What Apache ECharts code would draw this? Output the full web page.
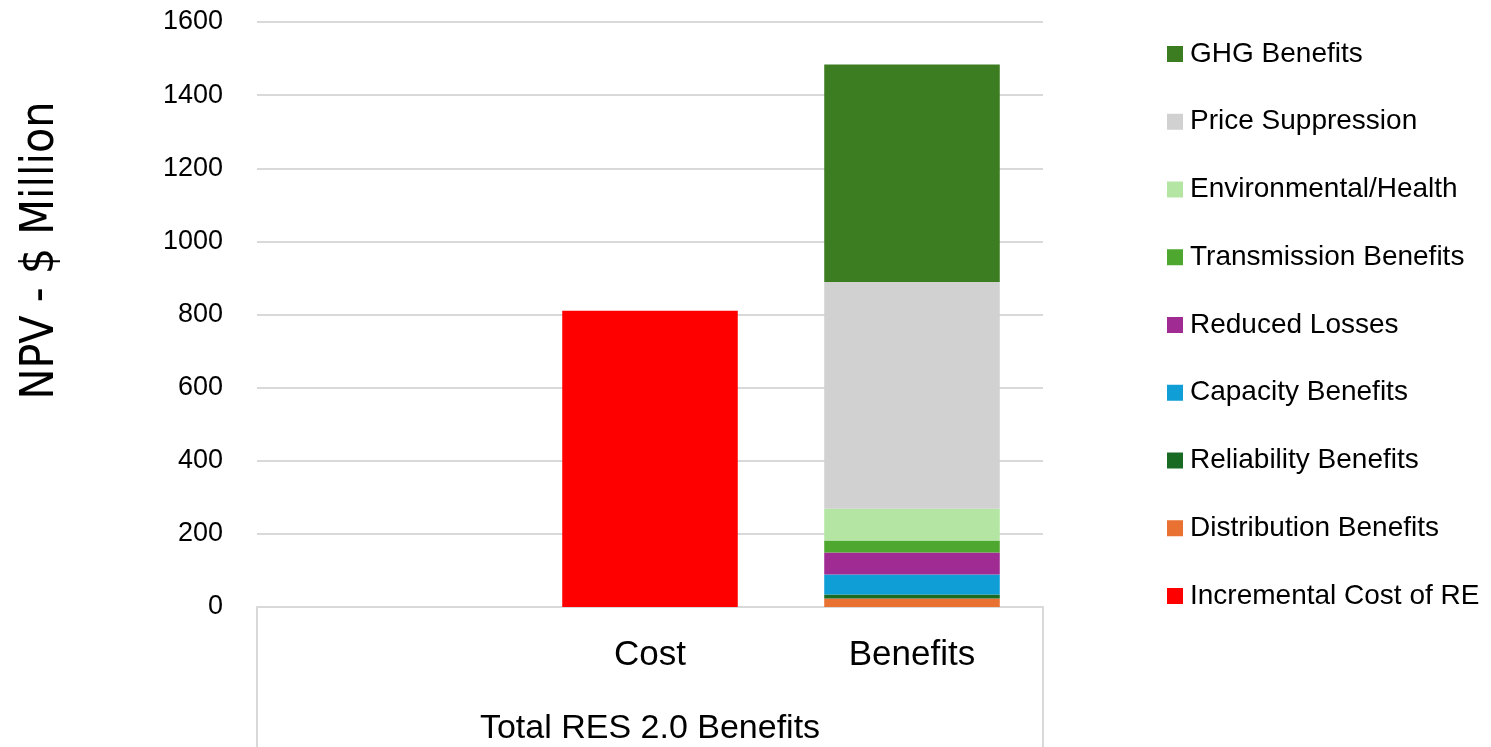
<!DOCTYPE html>
<html>
<head>
<meta charset="utf-8">
<script src="https://cdn.jsdelivr.net/npm/echarts@6/dist/echarts.min.js"></script>
<style>
  html, body { margin: 0; padding: 0; background: #fff; }
  #chart { width: 1491px; height: 747px; }
</style>
</head>
<body>
<div id="chart"></div>
<script>
// Categories of the inner axis and the outer group label
const categories = ['', 'Cost', 'Benefits'];
const groupLabel = ['Total RES 2.0 Benefits'];

// NPV, $ million, one value per category ('-' = no bar)
const incrementalCost = ['-', 810, '-'];
const distributionBenefits = ['-', '-', 23];
const reliabilityBenefits = ['-', '-', 11];
const capacityBenefits = ['-', '-', 55];
const reducedLosses = ['-', '-', 60];
const transmissionBenefits = ['-', '-', 33];
const environmentalHealth = ['-', '-', 87];
const priceSuppression = ['-', '-', 620];
const ghgBenefits = ['-', '-', 595];

const yTicks = { min: 0, max: 1600, interval: 200 };

const seriesDefs = [
  { name: 'Incremental Cost of RE', data: incrementalCost, color: '#ff0000' },
  { name: 'Distribution Benefits', data: distributionBenefits, color: '#e97132' },
  { name: 'Reliability Benefits', data: reliabilityBenefits, color: '#196b24' },
  { name: 'Capacity Benefits', data: capacityBenefits, color: '#0f9ed5' },
  { name: 'Reduced Losses', data: reducedLosses, color: '#a02b93' },
  { name: 'Transmission Benefits', data: transmissionBenefits, color: '#4ea72e' },
  { name: 'Environmental/Health', data: environmentalHealth, color: '#b4e5a2' },
  { name: 'Price Suppression', data: priceSuppression, color: '#d1d1d1' },
  { name: 'GHG Benefits', data: ghgBenefits, color: '#3c7d22' }
];

const chart = echarts.init(document.getElementById('chart'), null, { renderer: 'canvas' });

const labelFont = "'Liberation Sans', Arial, sans-serif";

chart.setOption({
  animation: false,
  backgroundColor: '#ffffff',
  grid: { left: 257, right: 448, top: 22, bottom: 140, containLabel: false },
  legend: {
    orient: 'vertical',
    left: 1162,
    top: 34,
    itemWidth: 16,
    itemHeight: 16,
    itemGap: 37.75,
    icon: 'rect',
    data: seriesDefs.map(s => s.name).reverse(),
    textStyle: { fontFamily: labelFont, fontSize: 28, color: '#000', lineHeight: 30, padding: [0, 0, 0, 2] }
  },
  xAxis: [
    {
      type: 'category',
      data: categories,
      position: 'bottom',
      axisLine: { show: true, lineStyle: { color: '#d9d9d9', width: 2 } },
      axisTick: { show: false },
      axisLabel: { fontFamily: labelFont, fontSize: 35, color: '#000', margin: 31 },
      splitLine: { show: false }
    },
    {
      type: 'category',
      data: groupLabel,
      position: 'bottom',
      offset: 0,
      boundaryGap: true,
      axisLine: { show: false },
      axisTick: { show: true, length: 140, inside: false, alignWithLabel: false, lineStyle: { color: '#d9d9d9', width: 2 } },
      axisLabel: { fontFamily: labelFont, fontSize: 34, color: '#000', margin: 105 },
      splitLine: { show: false }
    }
  ],
  yAxis: {
    type: 'value',
    min: yTicks.min,
    max: yTicks.max,
    interval: yTicks.interval,
    name: 'NPV - $ Million',
    nameLocation: 'middle',
    nameRotate: 90,
    nameGap: 193,
    nameTextStyle: {
      fontFamily: "'Liberation Sans Narrow', 'DejaVu Sans Condensed', 'Roboto Condensed', 'Liberation Sans', sans-serif",
      fontSize: 46,
      color: '#000',
      padding: [0, 0, 0, 128]
    },
    axisLine: { show: false },
    axisTick: { show: false },
    axisLabel: {
      fontFamily: labelFont,
      fontSize: 27,
      color: '#000',
      margin: 34,
      formatter: v => String(v)
    },
    splitLine: { show: true, lineStyle: { color: '#d9d9d9', width: 2 } }
  },
  series: seriesDefs.map(s => ({
    name: s.name,
    type: 'bar',
    stack: 'total',
    xAxisIndex: 0,
    barCategoryGap: '33%',
    data: s.data,
    itemStyle: { color: s.color }
  }))
});
</script>
</body>
</html>
